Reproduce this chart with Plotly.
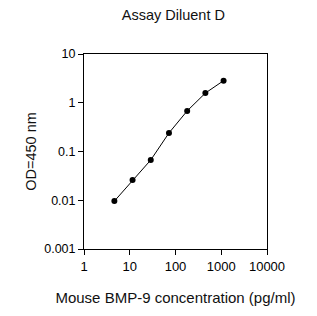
import plotly.graph_objects as go

conc = [4.608, 11.52, 28.8, 72, 180, 450, 1125]
od = [0.0096, 0.026, 0.067, 0.24, 0.68, 1.58, 2.84]
x_ticks = [1, 10, 100, 1000, 10000]
x_labels = ["1", "10", "100", "1000", "10000"]
y_ticks = [0.001, 0.01, 0.1, 1, 10]
y_labels = ["0.001", "0.01", "0.1", "1", "10"]

FONT = "Liberation Sans, Arial, sans-serif"

fig = go.Figure(go.Scatter(
    x=conc, y=od, mode="lines+markers",
    line=dict(color="black", width=1),
    marker=dict(color="black", size=6),
    showlegend=False,
))

fig.update_layout(
    width=317, height=316,
    margin=dict(l=84, r=50, t=54, b=67),
    paper_bgcolor="white", plot_bgcolor="white",
    font=dict(family=FONT, size=12.5, color="black"),
    title=dict(text="Assay Diluent D", x=0.547, xanchor="center", y=0.953, yanchor="middle",
               font=dict(family=FONT, size=14.5, color="#111111")),
)
fig.update_xaxes(
    type="log", range=[0, 4],
    tickvals=x_ticks, ticktext=x_labels,
    ticks="outside", ticklen=5, tickcolor="black",
    showline=True, linecolor="black", linewidth=1, mirror=True,
    showgrid=False, zeroline=False,
    tickfont=dict(size=13),
    title=dict(text="Mouse BMP-9 concentration (pg/ml)", font=dict(size=15, color="#111111"), standoff=19),
)
fig.update_yaxes(
    type="log", range=[-3, 1],
    tickvals=y_ticks, ticktext=y_labels,
    ticks="outside", ticklen=5, tickcolor="black",
    showline=True, linecolor="black", linewidth=1, mirror=True,
    showgrid=False, zeroline=False,
    tickfont=dict(size=12.5),
    title=dict(text="OD=450 nm", font=dict(size=14.5, color="#111111"), standoff=4),
)

fig.write_html("out.html")
